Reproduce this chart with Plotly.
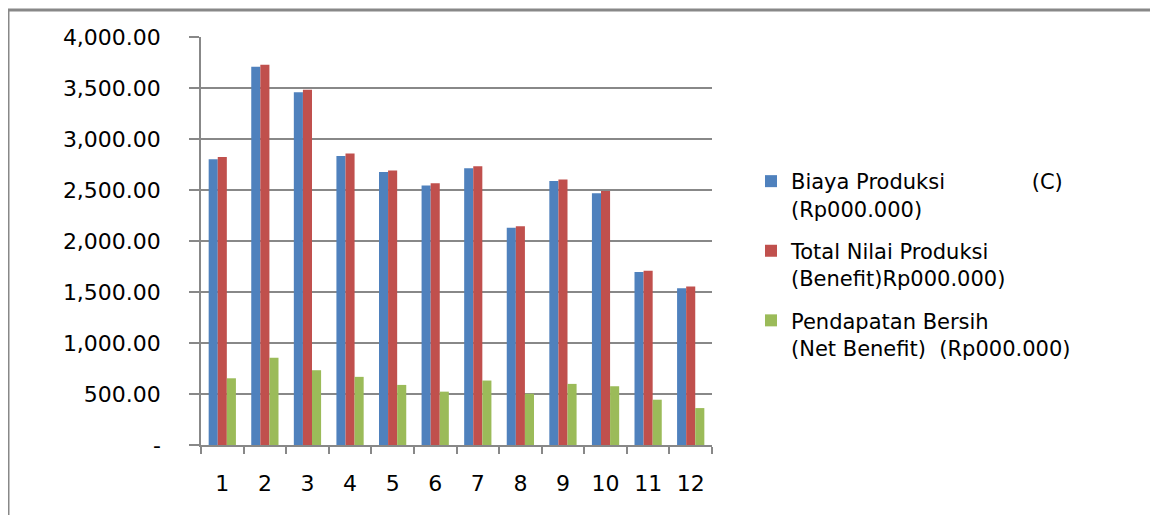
import plotly.graph_objects as go

categories = ["1", "2", "3", "4", "5", "6", "7", "8", "9", "10", "11", "12"]
biaya = [2802, 3708, 3459, 2834, 2677, 2544, 2713, 2131, 2589, 2468, 1696, 1536]
total = [2824, 3727, 3482, 2858, 2691, 2566, 2733, 2144, 2602, 2491, 1709, 1555]
net = [654, 856, 733, 668, 589, 523, 632, 503, 599, 576, 444, 362]

names = [
    "Biaya Produksi" + "\u00a0" * 13 + "(C)<br>(Rp000.000)",
    "Total Nilai Produksi<br>(Benefit)Rp000.000)",
    "Pendapatan Bersih<br>(Net Benefit)\u00a0\u00a0(Rp000.000)",
]
colors = ["#4F81BD", "#C0504D", "#9BBB59"]
y_ticks = [0, 500, 1000, 1500, 2000, 2500, 3000, 3500, 4000]
y_ticktext = ["-", "500.00", "1,000.00", "1,500.00", "2,000.00", "2,500.00",
              "3,000.00", "3,500.00", "4,000.00"]

FONT = "DejaVu Sans"
fig = go.Figure()
for i, (vals, nm, c) in enumerate(zip([biaya, total, net], names, colors)):
    fig.add_trace(go.Bar(x=categories, y=vals, name=nm, marker_color=c,
                         marker_line_width=0, legendgroup="g%d" % i))

# page body has an 8px offset
OFF = 8
W, H = 1150, 507
L, R, T, B = 201 - OFF, 446, 37 - OFF, 70
pw, ph = W - L - R, H - T - B


def px_x(sx):
    return (sx - OFF - L) / pw


def px_y(sy):
    return (H - B - (sy - OFF)) / ph


fig.update_layout(
    width=W, height=H,
    margin=dict(l=L, r=R, t=T, b=B),
    paper_bgcolor="white", plot_bgcolor="white",
    font=dict(family=FONT, size=21, color="#000"),
    barmode="group", bargap=0.36, bargroupgap=0,
    legend=dict(x=px_x(751), y=px_y(161), xanchor="left", yanchor="top",
                font=dict(family=FONT, size=21), tracegroupgap=12, valign="top",
                itemwidth=30, bgcolor="rgba(0,0,0,0)"),
    showlegend=True,
)
fig.update_xaxes(type="category", showline=True, linecolor="#888", linewidth=1.5,
                 ticks="outside", tickson="boundaries", ticklen=7, tickcolor="#888",
                 tickwidth=1.5, tickfont=dict(size=22), showgrid=False,
                 ticklabelstandoff=18)
fig.update_yaxes(range=[0, 4000], tickvals=y_ticks, ticktext=y_ticktext,
                 showline=True, linecolor="#888", linewidth=1.5,
                 ticks="outside", ticklen=10, tickcolor="#888", tickwidth=1.5,
                 showgrid=True, gridcolor="#888", gridwidth=1.5, zeroline=False,
                 tickfont=dict(size=22), ticklabelstandoff=24)

# outer frame (left and top edges)
fig.add_shape(type="line", xref="paper", yref="paper",
              x0=px_x(8), x1=px_x(8), y0=px_y(10), y1=px_y(530),
              line=dict(color="#888", width=3))
fig.add_shape(type="line", xref="paper", yref="paper",
              x0=px_x(8), x1=px_x(1170), y0=px_y(10), y1=px_y(10),
              line=dict(color="#888", width=3))

fig.write_html("out.html")
